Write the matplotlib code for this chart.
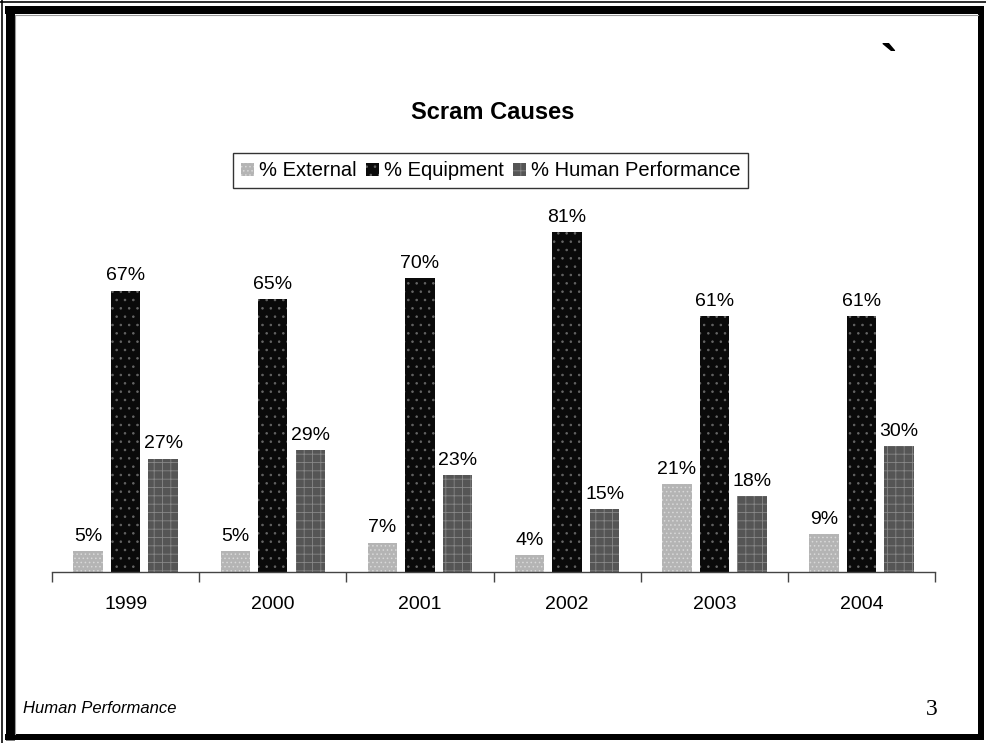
import matplotlib.pyplot as plt
import numpy as np

years = ["1999", "2000", "2001", "2002", "2003", "2004"]
external = [5, 5, 7, 4, 21, 9]
equipment = [67, 65, 70, 81, 61, 61]
human = [27, 29, 23, 15, 18, 30]


def main():
    plt.rcParams["font.family"] = ["Liberation Sans", "DejaVu Sans"]
    plt.rcParams["hatch.linewidth"] = 0.6

    fig = plt.figure(figsize=(9.87, 7.43), dpi=100)

    # frame drawn in pixel coordinates (1 px = 0.72 pt)
    deco = fig.add_axes([0, 0, 1, 1])
    deco.set_xlim(0, 987)
    deco.set_ylim(743, 0)
    deco.axis("off")
    px = 0.72
    deco.plot([1.8, 1.8], [0, 743], color="black", linewidth=1.6 * px)
    deco.plot([0, 987], [2.3, 2.3], color="black", linewidth=1.6 * px)
    deco.plot([9.5, 9.5], [6, 740], color="black", linewidth=9 * px, solid_capstyle="butt")
    deco.plot([5, 984], [10, 10], color="black", linewidth=8 * px, solid_capstyle="butt")
    deco.plot([981, 981], [6, 740], color="black", linewidth=6 * px, solid_capstyle="butt")
    deco.plot([5, 984], [737, 737], color="black", linewidth=6 * px, solid_capstyle="butt")
    deco.plot([14.5, 14.5, 977.5], [733.5, 14.5, 14.5], color="#999999", linewidth=0.8)

    ax = fig.add_axes([0.0527, 0.2301, 0.8947, 0.5007])
    x = np.arange(len(years))
    w = 0.2
    off = 0.255
    b1 = ax.bar(x - off, external, w, color="#b4b4b4", hatch="....",
                edgecolor="#d8d8d8", linewidth=0, label="% External")
    b2 = ax.bar(x, equipment, w, color="#0a0a0a", hatch="..",
                edgecolor="#666666", linewidth=0, label="% Equipment")
    b3 = ax.bar(x + off, human, w, color="#555555", hatch="++",
                edgecolor="#888888", linewidth=0, label="% Human Performance")

    for bars, vals in [(b1, external), (b2, equipment), (b3, human)]:
        for rect, v in zip(bars, vals):
            ax.text(rect.get_x() + rect.get_width() / 2, v + 1.5, str(v) + "%",
                    ha="center", va="bottom", fontsize=14)

    ax.set_xlim(-0.5, len(years) - 0.5)
    ax.set_ylim(0, 88.6)
    ax.set_yticks([])
    for s in ["top", "right", "left"]:
        ax.spines[s].set_visible(False)
    ax.spines["bottom"].set_color("#444444")
    ax.spines["bottom"].set_linewidth(1.0)
    ax.set_xticks(x)
    ax.set_xticklabels(years, fontsize=14)
    ax.tick_params(axis="x", length=0, pad=17)
    ax.set_xticks(np.arange(len(years) + 1) - 0.5, minor=True)
    ax.tick_params(axis="x", which="minor", length=7, color="#444444", width=1.0)
    ax.patch.set_alpha(0)

    fig.text(0.4995, 0.849, "Scram Causes", ha="center", va="center",
             fontsize=17, weight="bold")
    leg = fig.legend(handles=[b1, b2, b3], loc="center", bbox_to_anchor=(0.497, 0.77),
                     ncol=3, fontsize=14.5, frameon=True, fancybox=False,
                     edgecolor="black", handlelength=0.65, handleheight=0.65,
                     handletextpad=0.25, columnspacing=0.45, borderpad=0.4)
    leg.get_frame().set_linewidth(1.0)

    fig.text(0.9, 0.91, "`", fontsize=36, weight="bold", ha="center", va="center")
    fig.text(0.0233, 0.047, "Human Performance", fontsize=12, style="italic",
             ha="left", va="center")
    fig.text(0.944, 0.045, "3", fontsize=17, family="Liberation Serif",
             ha="center", va="center")

    plt.savefig("out.png", dpi=100)


if __name__ == "__main__":
    main()
